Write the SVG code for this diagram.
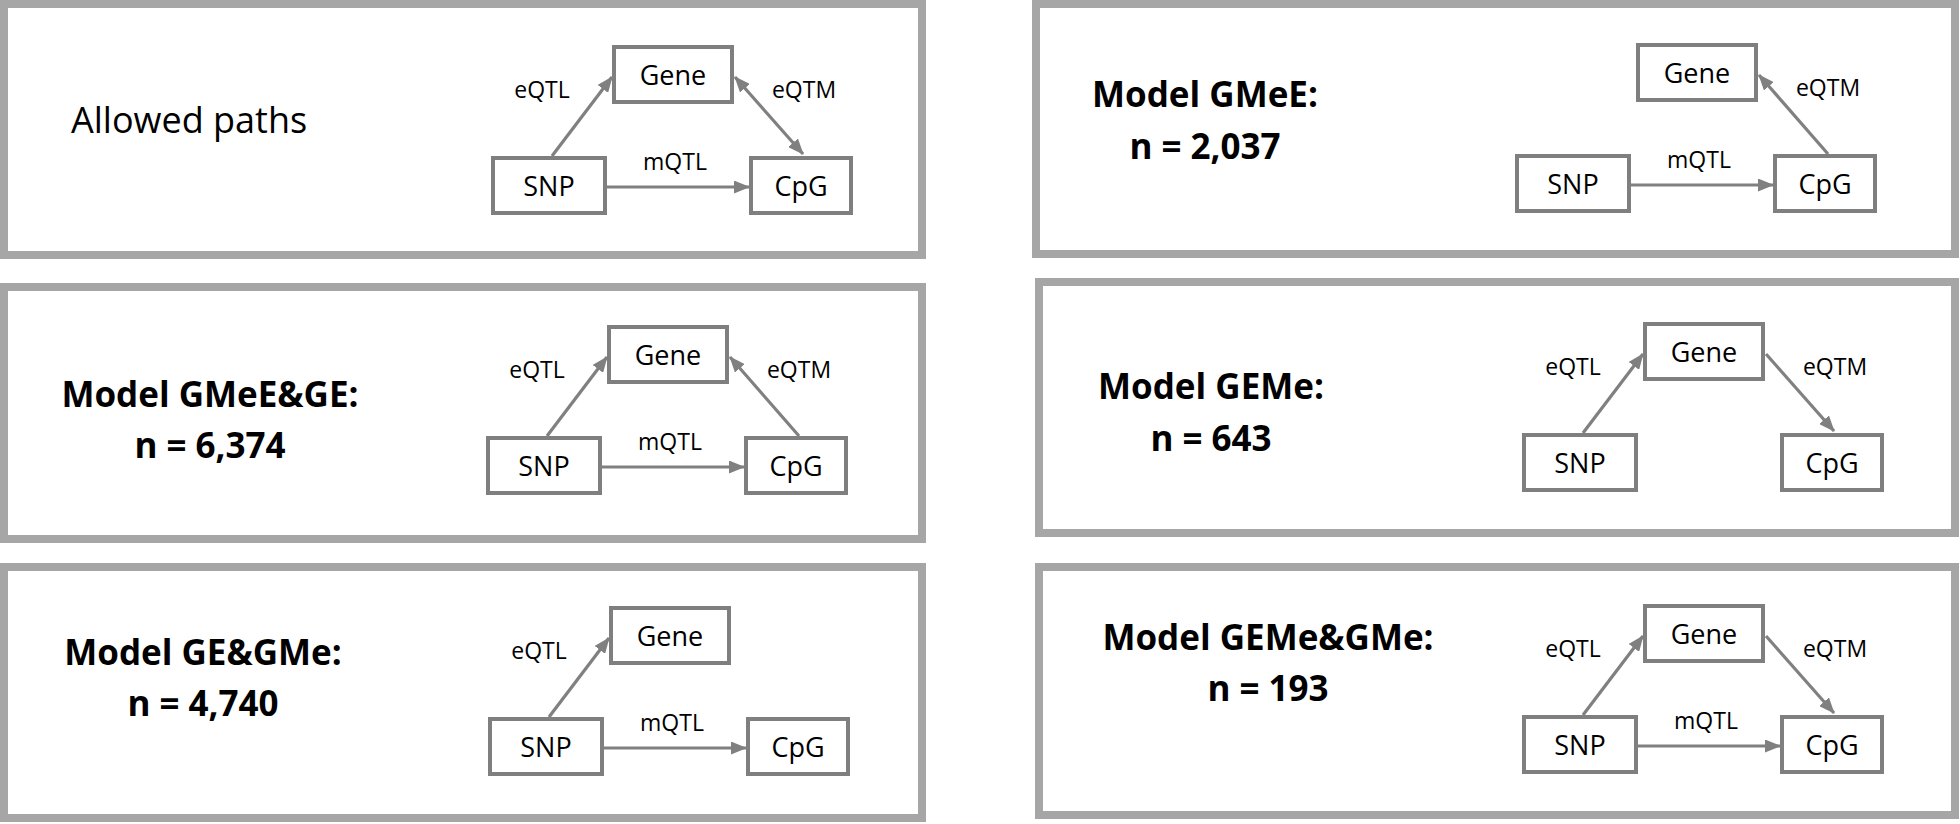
<svg xmlns="http://www.w3.org/2000/svg" width="1960" height="824" viewBox="0 0 1960 824">
<defs>
<marker id="ah" viewBox="0 0 16 13" refX="15" refY="6.5" markerWidth="16" markerHeight="13" markerUnits="userSpaceOnUse" orient="auto-start-reverse"><path d="M0,0 L16,6.5 L0,13 z" fill="#808080"/></marker>
</defs>
<style>
.panel{fill:#fff;stroke:#a6a6a6;stroke-width:8}
.box{fill:#fff;stroke:#7f7f7f;stroke-width:4}
.nl{font-family:"Open Sans","Noto Sans",sans-serif;font-size:27px;fill:#000;text-anchor:middle}
.el{font-family:"Open Sans","Noto Sans",sans-serif;font-size:23px;fill:#000;text-anchor:middle}
.title{font-family:"Open Sans","Noto Sans",sans-serif;font-weight:bold;font-size:35px;fill:#000;text-anchor:middle}
.plain{font-family:"Open Sans","Noto Sans",sans-serif;font-size:36px;fill:#000}
.edge{stroke:#808080;stroke-width:3.2;fill:none;marker-end:url(#ah)}
.both{marker-start:url(#ah)}
</style>
<rect width="1960" height="824" fill="#fff"/>

<!-- Panel 1 -->
<g id="panel1">
<rect class="panel" x="4" y="4" width="918" height="251"/>
<text class="plain" x="71" y="133">Allowed paths</text>
<g transform="translate(491,156)">
<g id="p1-snp"><rect class="box" x="2" y="2" width="112" height="55"/><text class="nl" x="58" y="40">SNP</text></g>
<g id="p1-gene"><rect class="box" x="123" y="-109" width="118" height="55"/><text class="nl" x="182" y="-71">Gene</text></g>
<g id="p1-cpg"><rect class="box" x="260" y="2" width="100" height="55"/><text class="nl" x="310" y="40">CpG</text></g>
<g id="p1-connectors">
<path class="edge" d="M61,0 L121,-79"/>
<path class="edge both" d="M244,-79 L312,-2"/>
<path class="edge" d="M116,31 L258,31"/>
<text class="el" x="51" y="-58">eQTL</text>
<text class="el" x="313" y="-58">eQTM</text>
<text class="el" x="184" y="14">mQTL</text>
</g>
</g>
</g>

<!-- Panel 2 -->
<g id="panel2">
<rect class="panel" x="1036" y="4" width="919" height="250"/>
<text class="title" x="1205" y="107">Model GMeE:</text>
<text class="title" x="1205" y="159">n = 2,037</text>
<g transform="translate(1515,154)">
<g id="p2-snp"><rect class="box" x="2" y="2" width="112" height="55"/><text class="nl" x="58" y="40">SNP</text></g>
<g id="p2-gene"><rect class="box" x="123" y="-109" width="118" height="55"/><text class="nl" x="182" y="-71">Gene</text></g>
<g id="p2-cpg"><rect class="box" x="260" y="2" width="100" height="55"/><text class="nl" x="310" y="40">CpG</text></g>
<g id="p2-connectors">
<path class="edge" d="M313,0 L244,-79"/>
<path class="edge" d="M116,31 L258,31"/>
<text class="el" x="313" y="-58">eQTM</text>
<text class="el" x="184" y="14">mQTL</text>
</g>
</g>
</g>

<!-- Panel 3 -->
<g id="panel3">
<rect class="panel" x="4" y="287" width="918" height="252"/>
<text class="title" x="210" y="407">Model GMeE&amp;GE:</text>
<text class="title" x="210" y="458">n = 6,374</text>
<g transform="translate(486,436)">
<g id="p3-snp"><rect class="box" x="2" y="2" width="112" height="55"/><text class="nl" x="58" y="40">SNP</text></g>
<g id="p3-gene"><rect class="box" x="123" y="-109" width="118" height="55"/><text class="nl" x="182" y="-71">Gene</text></g>
<g id="p3-cpg"><rect class="box" x="260" y="2" width="100" height="55"/><text class="nl" x="310" y="40">CpG</text></g>
<g id="p3-connectors">
<path class="edge" d="M61,0 L121,-79"/>
<path class="edge" d="M313,0 L244,-79"/>
<path class="edge" d="M116,31 L258,31"/>
<text class="el" x="51" y="-58">eQTL</text>
<text class="el" x="313" y="-58">eQTM</text>
<text class="el" x="184" y="14">mQTL</text>
</g>
</g>
</g>

<!-- Panel 4 -->
<g id="panel4">
<rect class="panel" x="1039" y="282" width="916" height="251"/>
<text class="title" x="1211" y="399">Model GEMe:</text>
<text class="title" x="1211" y="451">n = 643</text>
<g transform="translate(1522,433)">
<g id="p4-snp"><rect class="box" x="2" y="2" width="112" height="55"/><text class="nl" x="58" y="40">SNP</text></g>
<g id="p4-gene"><rect class="box" x="123" y="-109" width="118" height="55"/><text class="nl" x="182" y="-71">Gene</text></g>
<g id="p4-cpg"><rect class="box" x="260" y="2" width="100" height="55"/><text class="nl" x="310" y="40">CpG</text></g>
<g id="p4-connectors">
<path class="edge" d="M61,0 L121,-79"/>
<path class="edge" d="M244,-79 L312,-2"/>
<text class="el" x="51" y="-58">eQTL</text>
<text class="el" x="313" y="-58">eQTM</text>
</g>
</g>
</g>

<!-- Panel 5 -->
<g id="panel5">
<rect class="panel" x="4" y="567" width="918" height="251"/>
<text class="title" x="203" y="665">Model GE&amp;GMe:</text>
<text class="title" x="203" y="716">n = 4,740</text>
<g transform="translate(488,717)">
<g id="p5-snp"><rect class="box" x="2" y="2" width="112" height="55"/><text class="nl" x="58" y="40">SNP</text></g>
<g id="p5-gene"><rect class="box" x="123" y="-109" width="118" height="55"/><text class="nl" x="182" y="-71">Gene</text></g>
<g id="p5-cpg"><rect class="box" x="260" y="2" width="100" height="55"/><text class="nl" x="310" y="40">CpG</text></g>
<g id="p5-connectors">
<path class="edge" d="M61,0 L121,-79"/>
<path class="edge" d="M116,31 L258,31"/>
<text class="el" x="51" y="-58">eQTL</text>
<text class="el" x="184" y="14">mQTL</text>
</g>
</g>
</g>

<!-- Panel 6 -->
<g id="panel6">
<rect class="panel" x="1039" y="567" width="916" height="248"/>
<text class="title" x="1268" y="650">Model GEMe&amp;GMe:</text>
<text class="title" x="1268" y="701">n = 193</text>
<g transform="translate(1522,715)">
<g id="p6-snp"><rect class="box" x="2" y="2" width="112" height="55"/><text class="nl" x="58" y="40">SNP</text></g>
<g id="p6-gene"><rect class="box" x="123" y="-109" width="118" height="55"/><text class="nl" x="182" y="-71">Gene</text></g>
<g id="p6-cpg"><rect class="box" x="260" y="2" width="100" height="55"/><text class="nl" x="310" y="40">CpG</text></g>
<g id="p6-connectors">
<path class="edge" d="M61,0 L121,-79"/>
<path class="edge" d="M244,-79 L312,-2"/>
<path class="edge" d="M116,31 L258,31"/>
<text class="el" x="51" y="-58">eQTL</text>
<text class="el" x="313" y="-58">eQTM</text>
<text class="el" x="184" y="14">mQTL</text>
</g>
</g>
</g>
</svg>
